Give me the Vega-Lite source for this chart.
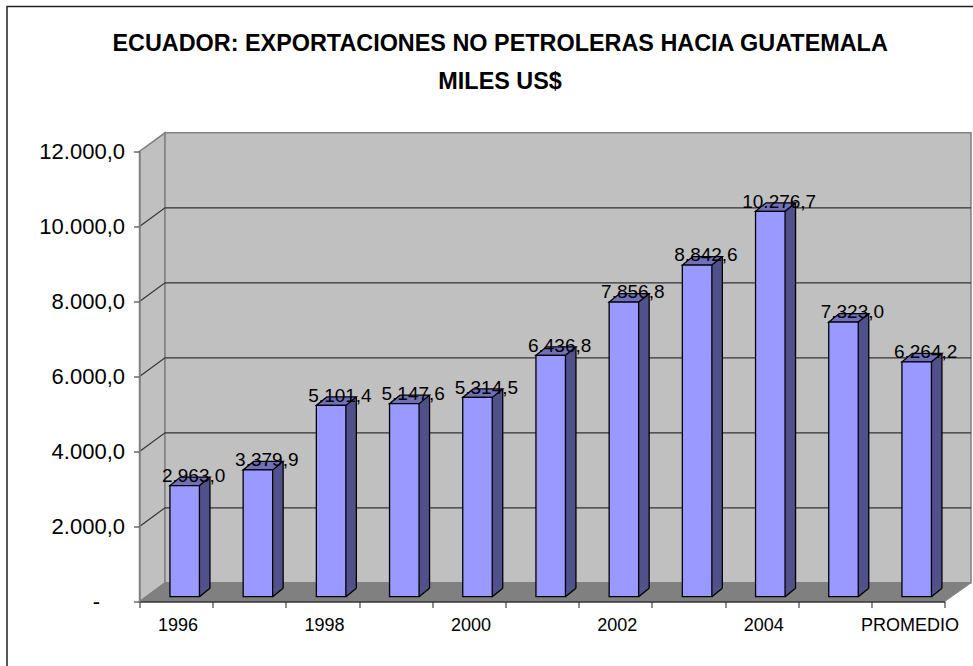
{"$schema":"https://vega.github.io/schema/vega-lite/v6.json","width":805.2,"height":450,"autosize":{"type":"none"},"padding":{"left":139.5,"top":151.5,"right":28.3,"bottom":64.5},"background":"white",
"config":{"view":{"stroke":null},"locale":{"number":{"decimal":",","thousands":".","grouping":[3],"currency":["","$"]}}},
"title":{"text":["ECUADOR: EXPORTACIONES NO PETROLERAS HACIA GUATEMALA","MILES US$"],"font":"Liberation Sans","fontSize":23.4,"fontWeight":"bold","color":"black","anchor":"middle","dx":-42,"offset":0,"dy":109,"lineHeight":38,"baseline":"alphabetic"},
"datasets":{"bars":[{"cat":"1996","value":2963.0},{"cat":"1997","value":3379.9},{"cat":"1998","value":5101.4},{"cat":"1999","value":5147.6},{"cat":"2000","value":5314.5},{"cat":"2001","value":6436.8},{"cat":"2002","value":7856.8},{"cat":"2003","value":8842.6},{"cat":"2004","value":10276.7},{"cat":"2005","value":7323.0},{"cat":"PROMEDIO","value":6264.2}],"origin":[{"cat":"1996","v":0,"zero":"-"}],"grid":[{"cat":"1996","v":2000},{"cat":"1996","v":4000},{"cat":"1996","v":6000},{"cat":"1996","v":8000},{"cat":"1996","v":10000}]},
"encoding":{"x":{"field":"cat","type":"nominal","sort":null,"title":null,"scale":{"type":"band","paddingInner":0,"paddingOuter":0,"domain":["1996","1997","1998","1999","2000","2001","2002","2003","2004","2005","PROMEDIO"]},"axis":{"title":null,"tickBand":"extent","labelAngle":0,"labelOverlap":false,"labelFont":"Liberation Sans","labelFontSize":18,"labelColor":"black","labelOffset":1.5,"labelPadding":9,"tickSize":6,"tickColor":"#444444","tickWidth":1.2,"domainColor":"#333333","domainWidth":1.3,"grid":false,"zindex":1,"labelExpr":"indexof(['1997','1999','2001','2003','2005'],datum.label)>=0?'':datum.label"}},
"y":{"type":"quantitative","title":null,"scale":{"domain":[0,12000],"nice":false},"axis":{"title":null,"values":[0,2000,4000,6000,8000,10000,12000],"format":",.1f","labelFont":"Liberation Sans","labelFontSize":22,"labelColor":"black","labelPadding":9,"tickSize":6,"tickColor":"#444444","tickWidth":1.2,"domainColor":"#808080","domainWidth":1.5,"grid":false,"zindex":1,"labelExpr":"datum.value===0?'':datum.label"}}},
"layer":[
{"data":{"name":"origin"},"mark":{"type":"point","shape":"M0,0 L25.5,-18.7 L25.5,-468.7 L0,-450 Z","size":4,"filled":true,"fill":"#C0C0C0","stroke":"#808080","strokeWidth":1.5,"opacity":1},"encoding":{"x":{"field":"cat","type":"nominal","bandPosition":0},"y":{"field":"v"}}},
{"data":{"name":"origin"},"mark":{"type":"point","shape":"M25.5,-18.7 L831.5,-18.7 L831.5,-468.7 L25.5,-468.7 Z","size":4,"filled":true,"fill":"#C0C0C0","stroke":"#808080","strokeWidth":1.5,"opacity":1},"encoding":{"x":{"field":"cat","type":"nominal","bandPosition":0},"y":{"field":"v"}}},
{"data":{"name":"origin"},"mark":{"type":"point","shape":"M0,0 L25.5,-18.7 L831.5,-18.7 L805.2,0 Z","size":4,"filled":true,"fill":"#808080","stroke":"#808080","strokeWidth":1,"opacity":1},"encoding":{"x":{"field":"cat","type":"nominal","bandPosition":0},"y":{"field":"v"}}},
{"data":{"name":"origin"},"mark":{"type":"point","shape":"M-132.5,64.5 L-132.5,-595 L840,-595","size":4,"filled":false,"stroke":"#222222","strokeWidth":1.5,"opacity":1},"encoding":{"x":{"field":"cat","type":"nominal","bandPosition":0},"y":{"field":"v"}}},
{"data":{"name":"origin"},"mark":{"type":"text","font":"Liberation Sans","fontSize":22,"color":"black","baseline":"middle","align":"center","xOffset":-43},"encoding":{"x":{"field":"cat","type":"nominal","bandPosition":0},"y":{"field":"v"},"text":{"field":"zero"}}},
{"data":{"name":"grid"},"mark":{"type":"point","shape":"M0,0 L25.5,-18.7 L831.5,-18.7","size":4,"filled":false,"stroke":"#333333","strokeWidth":1.2,"opacity":1},"encoding":{"x":{"field":"cat","type":"nominal","bandPosition":0},"y":{"field":"v"}}},
{"data":{"name":"bars"},"mark":{"type":"bar","width":10.5,"fill":"#50508A","xOffset":28.6,"yOffset":-13.3,"y2Offset":-13.3},"encoding":{"y":{"field":"value","stack":null},"y2":{"datum":0}}},
{"data":{"name":"bars"},"mark":{"type":"point","shape":"M14.75,0 L25.25,-8.5 L14.75,-8.5 Z","size":4,"filled":true,"fill":"#50508A","stroke":null,"xOffset":8.6,"yOffset":-4.8,"opacity":1},"encoding":{"y":{"datum":0}}},
{"data":{"name":"bars"},"mark":{"type":"point","shape":"M14.75,0 L25.25,-8.5","size":4,"filled":false,"stroke":"black","strokeWidth":1.3,"xOffset":8.6,"yOffset":-4.8,"opacity":1},"encoding":{"y":{"datum":0}}},
{"data":{"name":"bars"},"mark":{"type":"rule","stroke":"black","strokeWidth":1.3,"xOffset":33.85,"yOffset":-13.3,"y2Offset":-13.3},"encoding":{"y":{"field":"value"},"y2":{"datum":0}}},
{"data":{"name":"bars"},"mark":{"type":"point","shape":"M-14.75,0 L14.75,0 L25.25,-8.5 L-4.25,-8.5 Z","size":4,"filled":true,"fill":"#7070B8","stroke":"black","strokeWidth":1.3,"xOffset":8.6,"yOffset":-4.8,"opacity":1},"encoding":{"y":{"field":"value"}}},
{"data":{"name":"bars"},"mark":{"type":"bar","width":29.5,"fill":"#9999FF","stroke":"black","strokeWidth":1.3,"xOffset":8.6,"yOffset":-4.8,"y2Offset":-4.8},"encoding":{"y":{"field":"value","stack":null},"y2":{"datum":0}}},
{"data":{"name":"bars"},"mark":{"type":"text","font":"Liberation Sans","fontSize":19,"color":"black","baseline":"alphabetic","align":"center","xOffset":17.5,"yOffset":-8.5},"encoding":{"y":{"field":"value"},"text":{"field":"value","type":"quantitative","format":",.1f"}}}
]}
